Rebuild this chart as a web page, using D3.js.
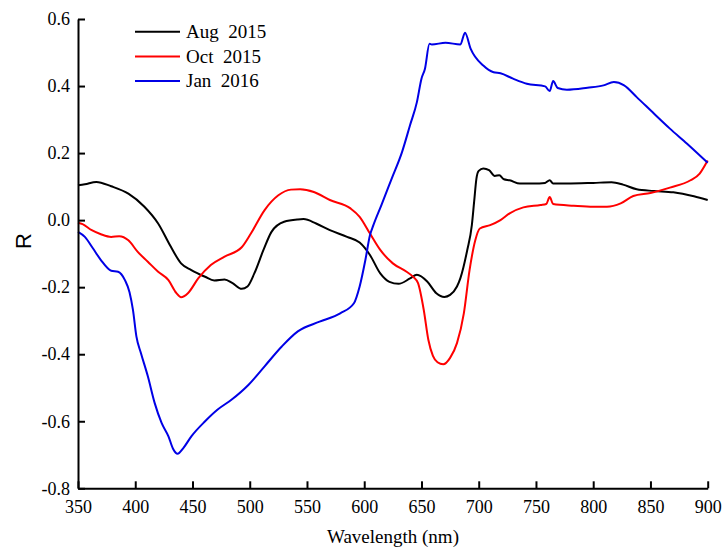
<!DOCTYPE html>
<html>
<head>
<meta charset="utf-8">
<script src="https://cdn.jsdelivr.net/npm/d3@7"></script>
<style>
  html, body { margin: 0; padding: 0; background: #fff; }
  svg { display: block; }
  .legend text, .axis-title { font-family: "Liberation Serif", "Times New Roman", serif; fill: #000; }
</style>
</head>
<body>
<svg id="chart" width="722" height="548"></svg>
<script>
// Reflectance difference spectra (R) versus wavelength for three survey dates
const augWl = [350,356,366,379,394,408,420,431,440,449,461,469,478,485,493,498,504,512,519,530,542,547,558,570,585,596,605,614,622,630,640,646,655,663,670,675,681,684,690,694,696,698,700,704,709,714,718,722,727,736,748,758,762,765,777,800,816,826,838,853,870,888,900];
const augR  = [0.104,0.107,0.114,0.101,0.079,0.040,-0.010,-0.079,-0.129,-0.149,-0.169,-0.180,-0.177,-0.188,-0.205,-0.198,-0.159,-0.089,-0.035,-0.005,0.002,0.003,-0.010,-0.030,-0.050,-0.067,-0.104,-0.159,-0.184,-0.190,-0.174,-0.163,-0.183,-0.218,-0.229,-0.223,-0.198,-0.173,-0.089,-0.015,0.055,0.124,0.147,0.154,0.149,0.132,0.134,0.122,0.119,0.109,0.109,0.111,0.119,0.109,0.109,0.111,0.113,0.106,0.092,0.087,0.083,0.071,0.060];

const octWl = [350,354,362,370,379,386,394,402,411,420,429,436,440,446,455,466,478,493,501,513,525,536,544,556,570,588,596,605,614,625,637,643,647,652,656,660,664,669,675,681,687,692,697,701,710,719,727,739,754,759,762,765,783,800,812,824,835,850,867,885,893,899,900];
const octR  = [-0.008,-0.012,-0.030,-0.042,-0.050,-0.048,-0.060,-0.094,-0.124,-0.154,-0.179,-0.218,-0.230,-0.218,-0.174,-0.134,-0.109,-0.081,-0.040,0.030,0.074,0.091,0.092,0.084,0.060,0.035,0.010,-0.040,-0.089,-0.129,-0.154,-0.170,-0.188,-0.268,-0.357,-0.405,-0.424,-0.430,-0.411,-0.367,-0.278,-0.149,-0.060,-0.025,-0.015,0.000,0.020,0.038,0.045,0.048,0.069,0.048,0.043,0.040,0.040,0.050,0.072,0.081,0.097,0.119,0.139,0.172,0.178];

const janWl = [350,356,363,370,379,385,391,395,398,401,405,411,417,423,429,433,437,442,449,461,472,484,499,513,528,542,561,579,591,596,601,605,608,615,624,633,640,646,650,653,657,659,671,684,688,693,704,713,719,730,742,758,762,765,769,777,795,809,818,827,838,853,867,882,900];
const janR  = [-0.035,-0.050,-0.084,-0.119,-0.151,-0.154,-0.179,-0.215,-0.268,-0.347,-0.397,-0.466,-0.546,-0.605,-0.645,-0.682,-0.697,-0.680,-0.645,-0.600,-0.565,-0.536,-0.491,-0.436,-0.377,-0.332,-0.303,-0.278,-0.248,-0.198,-0.119,-0.045,-0.015,0.045,0.124,0.203,0.283,0.352,0.422,0.451,0.526,0.524,0.529,0.524,0.559,0.511,0.461,0.441,0.438,0.422,0.407,0.399,0.385,0.415,0.394,0.389,0.395,0.402,0.412,0.402,0.367,0.318,0.273,0.228,0.171];

const seriesNames  = ["Aug  2015", "Oct  2015", "Jan  2016"];
const seriesColors = ["#000000", "#ff0000", "#0000e6"];
const xTicks = [350,400,450,500,550,600,650,700,750,800,850,900];
const yTicks = [-0.8,-0.6,-0.4,-0.2,0.0,0.2,0.4,0.6];

const series = [
  { name: seriesNames[0], color: seriesColors[0], pts: augWl.map((w, i) => [w, augR[i]]) },
  { name: seriesNames[1], color: seriesColors[1], pts: octWl.map((w, i) => [w, octR[i]]) },
  { name: seriesNames[2], color: seriesColors[2], pts: janWl.map((w, i) => [w, janR[i]]) }
];

const serif = "'Liberation Serif', 'Times New Roman', serif";
const svg = d3.select("#chart");
const x = d3.scaleLinear().domain([350, 900]).range([78, 707.7]);
const y = d3.scaleLinear().domain([-0.8, 0.6]).range([488.3, 19]);

const line = d3.line()
  .x(d => x(d[0]))
  .y(d => y(d[1]))
  .curve(d3.curveMonotoneX);

// data curves
svg.append("g").selectAll("path")
  .data(series)
  .join("path")
  .attr("d", d => line(d.pts))
  .attr("fill", "none")
  .attr("stroke", d => d.color)
  .attr("stroke-width", 2)
  .attr("stroke-linejoin", "round");

// axes with inward ticks
const xAxis = svg.append("g")
  .attr("transform", `translate(0,${y(-0.8)})`)
  .call(d3.axisBottom(x).tickValues(xTicks).tickFormat(d3.format("d"))
    .tickSizeInner(-7).tickSizeOuter(0).tickPadding(12));

const yAxis = svg.append("g")
  .attr("transform", `translate(${x(350)},0)`)
  .call(d3.axisLeft(y).tickValues(yTicks).tickFormat(d => d3.format(".1f")(d).replace("−", "-"))
    .tickSizeInner(-7).tickSizeOuter(0).tickPadding(8));

[xAxis, yAxis].forEach(g => {
  g.attr("font-family", serif).attr("font-size", 18);
  g.select(".domain").attr("stroke", "#000").attr("stroke-width", 2);
  g.selectAll(".tick line").attr("stroke", "#000").attr("stroke-width", 2);
  g.selectAll(".tick text").attr("fill", "#000");
});

// axis titles
svg.append("text")
  .attr("class", "axis-title")
  .attr("x", 393).attr("y", 543)
  .attr("text-anchor", "middle")
  .attr("font-size", 19)
  .text("Wavelength (nm)");

svg.append("text")
  .attr("transform", "translate(31,241) rotate(-90)")
  .attr("text-anchor", "middle")
  .attr("font-family", "'Liberation Sans', Arial, sans-serif")
  .attr("font-size", 22)
  .attr("fill", "#000")
  .text("R");

// legend
const legend = svg.append("g").attr("class", "legend");
const legendRows = legend.selectAll("g")
  .data(series)
  .join("g")
  .attr("transform", (d, i) => `translate(135,${31.7 + i * 24.7})`);
legendRows.append("line")
  .attr("x1", 0).attr("x2", 45)
  .attr("stroke", d => d.color)
  .attr("stroke-width", 2);
legendRows.append("text")
  .attr("x", 51).attr("dy", "0.33em")
  .attr("font-size", 19)
  .style("white-space", "pre")
  .text(d => d.name);
</script>
</body>
</html>
